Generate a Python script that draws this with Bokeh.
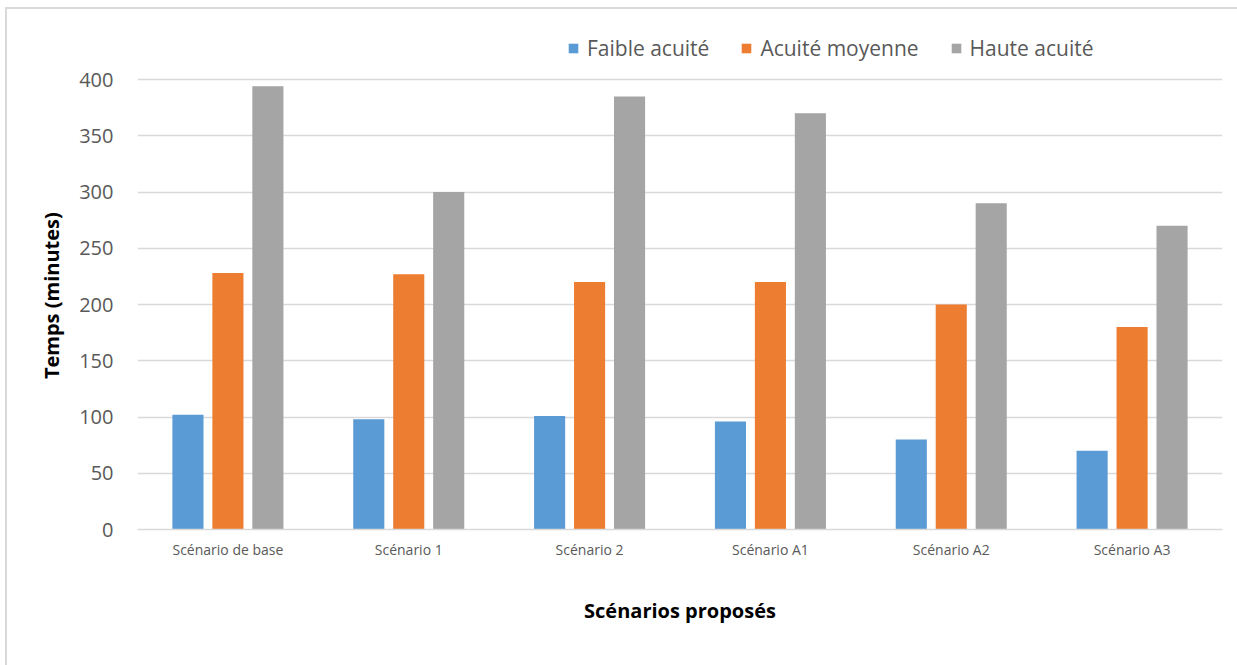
from bokeh.plotting import figure
from bokeh.models import (ColumnDataSource, FactorRange, Legend, LegendItem,
                          FixedTicker)
from bokeh.transform import dodge
from bokeh.embed import file_html
from bokeh.resources import INLINE

# Waiting time per scenario and acuity level (minutes)
scenarios = ["Scénario de base", "Scénario 1", "Scénario 2",
             "Scénario A1", "Scénario A2", "Scénario A3"]
faible = [102, 98, 101, 96, 80, 70]
moyenne = [228, 227, 220, 220, 200, 180]
haute = [394, 300, 385, 370, 290, 270]
y_ticks = [0, 50, 100, 150, 200, 250, 300, 350, 400]
series_names = ["Faible acuité", "Acuité moyenne", "Haute acuité"]
colors = ["#5b9bd5", "#ed7d31", "#a5a5a5"]

source = ColumnDataSource(data=dict(scenario=scenarios, faible=faible,
                                    moyenne=moyenne, haute=haute))

FONT = "Open Sans"
GREY_TEXT = "#595959"
GRID = "#d9d9d9"

# the frame extends above the last gridline so the legend can sit inside it
p = figure(x_range=FactorRange(*scenarios, range_padding=0), y_range=(0, 448),
           width=1237, height=665, output_backend="svg", toolbar_location=None,
           min_border_left=137, min_border_right=15,
           min_border_top=25, min_border_bottom=136)
p.outline_line_color = None
p.background_fill_color = None
# transparent outer area so the chart-area border drawn by CSS shows through
p.border_fill_color = None
p.styles = {
    "background-color": "white",
    "background-image": (
        "linear-gradient(to bottom, transparent 7px, #d9d9d9 7px, #d9d9d9 9px, transparent 9px), "
        "linear-gradient(to right, transparent 5px, #d9d9d9 5px, #d9d9d9 7px, transparent 7px)"
    ),
    "background-size": "100% 100%, 100% 100%",
    "background-position": "6px 0px, 0px 7px",
    "background-repeat": "no-repeat, no-repeat",
}

offset = 0.221
bw = 0.172
renderers = []
for field, off, col in zip(["faible", "moyenne", "haute"], [-offset, 0, offset], colors):
    r = p.vbar(x=dodge("scenario", off, range=p.x_range), top=field, width=bw,
               source=source, fill_color=col, line_color=None)
    renderers.append(r)

# y axis; trailing no-break spaces push the label's centre down to the gridded area
p.yaxis.ticker = FixedTicker(ticks=y_ticks)
p.yaxis.axis_label = "Temps (minutes)" + "\u00a0" * 7
p.yaxis.axis_label_text_font = FONT
p.yaxis.axis_label_text_font_style = "bold"
p.yaxis.axis_label_text_font_size = "20px"
p.yaxis.axis_label_text_color = "black"
p.yaxis.axis_label_standoff = 11
p.yaxis.major_label_text_font = FONT
p.yaxis.major_label_text_font_size = "20px"
p.yaxis.major_label_text_color = GREY_TEXT
p.yaxis.major_label_standoff = 18
p.yaxis.axis_line_color = None
p.yaxis.major_tick_line_color = None
p.yaxis.minor_tick_line_color = None

# x axis
p.xaxis.axis_label = "Scénarios proposés"
p.xaxis.axis_label_text_font = FONT
p.xaxis.axis_label_text_font_style = "bold"
p.xaxis.axis_label_text_font_size = "20px"
p.xaxis.axis_label_text_color = "black"
p.xaxis.axis_label_standoff = 35
p.xaxis.major_label_text_font = FONT
p.xaxis.major_label_text_font_size = "14px"
p.xaxis.major_label_text_color = GREY_TEXT
p.xaxis.major_label_standoff = 4
p.xaxis.axis_line_color = GRID
p.xaxis.axis_line_width = 1.5
p.xaxis.major_tick_line_color = None
p.xaxis.minor_tick_line_color = None

p.xgrid.grid_line_color = None
p.ygrid.grid_line_color = GRID
p.ygrid.grid_line_width = 1.5

legend = Legend(items=[LegendItem(label=n, renderers=[r]) for n, r in zip(series_names, renderers)],
                orientation="horizontal", location=(430, 467),
                padding=0, margin=0, spacing=31, label_standoff=8,
                glyph_width=12, glyph_height=12,
                label_text_font=FONT, label_text_font_size="21px",
                label_text_color=GREY_TEXT,
                border_line_alpha=0, background_fill_alpha=0)
p.add_layout(legend, "center")

open("out.html", "w").write(file_html(p, INLINE))
